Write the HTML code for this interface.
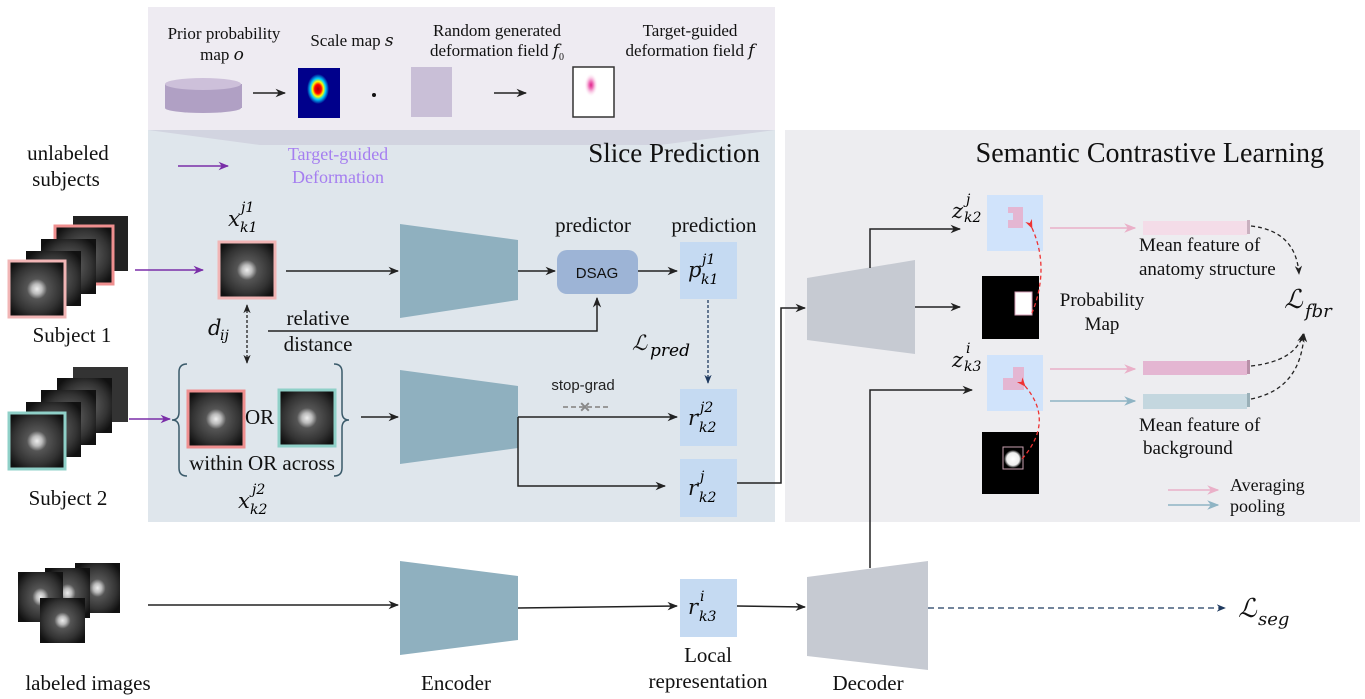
<!DOCTYPE html>
<html><head><meta charset="utf-8"><style>
html,body{margin:0;padding:0;background:#fff;}
svg{display:block;font-family:"Liberation Serif","DejaVu Serif",serif;}
.t{font-size:21px;fill:#111;}
.s{font-size:17px;fill:#111;}
.m{font-style:italic;font-family:"DejaVu Serif",serif;}
</style></head><body>
<svg width="1365" height="699" viewBox="0 0 1365 699" xmlns="http://www.w3.org/2000/svg">
<defs>
<radialGradient id="mri" cx="0.5" cy="0.5" r="0.6">
<stop offset="0" stop-color="#eee"/><stop offset="0.15" stop-color="#bbb"/><stop offset="0.3" stop-color="#555"/><stop offset="0.7" stop-color="#333"/><stop offset="1" stop-color="#111"/></radialGradient>
<radialGradient id="heat" cx="0.5" cy="0.5" r="0.5">
<stop offset="0" stop-color="#a00"/><stop offset="0.3" stop-color="#f00"/><stop offset="0.5" stop-color="#ff0"/><stop offset="0.7" stop-color="#0cf"/><stop offset="1" stop-color="#00008b"/></radialGradient>
<radialGradient id="tg" cx="0.5" cy="0.5" r="0.5">
<stop offset="0" stop-color="#e0208a"/><stop offset="0.35" stop-color="#f080c0"/><stop offset="1" stop-color="#fff" stop-opacity="0"/></radialGradient>
<radialGradient id="blob" cx="0.5" cy="0.5" r="0.5">
<stop offset="0" stop-color="#fff"/><stop offset="0.7" stop-color="#eee"/><stop offset="1" stop-color="#000"/></radialGradient>
<marker id="a" viewBox="0 0 10 10" refX="9" refY="5" markerWidth="7" markerHeight="7" orient="auto-start-reverse"><path d="M0,1 L10,5 L0,9 L3,5z" fill="#222"/></marker>
<marker id="ap" viewBox="0 0 10 10" refX="9" refY="5" markerWidth="7" markerHeight="7" orient="auto"><path d="M0,1 L10,5 L0,9 L3,5z" fill="#7a2ea8"/></marker>
<marker id="an" viewBox="0 0 10 10" refX="9" refY="5" markerWidth="7" markerHeight="7" orient="auto"><path d="M0,1 L10,5 L0,9 L3,5z" fill="#1f3a5f"/></marker>
<marker id="ar" viewBox="0 0 10 10" refX="9" refY="5" markerWidth="7" markerHeight="7" orient="auto"><path d="M0,1 L10,5 L0,9 L3,5z" fill="#e33"/></marker>
<marker id="apk" viewBox="0 0 10 10" refX="9" refY="5" markerWidth="8" markerHeight="8" orient="auto"><path d="M0,1 L10,5 L0,9 L3,5z" fill="#eab0c8"/></marker>
<marker id="abl" viewBox="0 0 10 10" refX="9" refY="5" markerWidth="8" markerHeight="8" orient="auto"><path d="M0,1 L10,5 L0,9 L3,5z" fill="#8fb4c4"/></marker>
</defs>

<!-- panels -->
<rect x="148" y="7" width="627" height="123" fill="#eeebf2"/>
<rect x="148" y="130" width="627" height="392" fill="#dfe6ec"/>
<polygon points="148,130 775,130 660,145 260,145" fill="#d2d4e0"/>
<rect x="785" y="130" width="575" height="392" fill="#ededf0"/>

<!-- top panel -->
<text class="s" x="224" y="39" text-anchor="middle">Prior probability</text>
<text class="s" x="222" y="60" text-anchor="middle">map <tspan class="m">o</tspan></text>
<text class="s" x="352" y="46" text-anchor="middle">Scale map <tspan class="m">s</tspan></text>
<text class="s" x="497" y="36" text-anchor="middle">Random generated</text>
<text class="s" x="497" y="56" text-anchor="middle">deformation field <tspan class="m">f</tspan><tspan font-size="10" dy="4">0</tspan></text>
<text class="s" x="690" y="36" text-anchor="middle">Target-guided</text>
<text class="s" x="690" y="56" text-anchor="middle">deformation field <tspan class="m">f</tspan></text>
<rect x="165" y="84" width="77" height="24" fill="#b0a0c4"/>
<ellipse cx="203" cy="84" rx="38" ry="6" fill="#cdc0da"/>
<ellipse cx="203" cy="108" rx="38" ry="5" fill="#b0a0c4"/>
<line x1="253" y1="93" x2="285" y2="93" stroke="#222" stroke-width="1.5" marker-end="url(#a)"/>
<rect x="298" y="68" width="42" height="50" fill="#00008b"/>
<ellipse cx="318" cy="89" rx="11" ry="15" fill="url(#heat)"/>
<circle cx="374" cy="95" r="2" fill="#111"/>
<rect x="411" y="67" width="41" height="50" fill="#c9bfd7"/>
<line x1="494" y1="93" x2="526" y2="93" stroke="#222" stroke-width="1.5" marker-end="url(#a)"/>
<rect x="573" y="67" width="41" height="50" fill="#fff" stroke="#333" stroke-width="1.5"/>
<ellipse cx="591" cy="85" rx="7" ry="12" fill="url(#tg)"/>

<!-- left -->
<text class="t" x="68" y="160" text-anchor="middle">unlabeled</text>
<text class="t" x="66" y="186" text-anchor="middle">subjects</text>
<line x1="178" y1="166" x2="228" y2="166" stroke="#7a2ea8" stroke-width="1.5" marker-end="url(#ap)"/>
<text x="338" y="160" font-size="18" fill="#a57ef0" text-anchor="middle">Target-guided</text>
<text x="338" y="183" font-size="18" fill="#a57ef0" text-anchor="middle">Deformation</text>
<text x="760" y="162" font-size="27" fill="#111" text-anchor="end">Slice Prediction</text>
<text x="1324" y="162" font-size="28" fill="#111" text-anchor="end">Semantic Contrastive Learning</text>

<!-- subject 1 stack -->
<rect x="73" y="216" width="55" height="55" fill="#222"/>
<rect x="55" y="226" width="58" height="58" fill="url(#mri)" stroke="#ef8f8f" stroke-width="3"/>
<rect x="41" y="239" width="55" height="55" fill="url(#mri)"/>
<rect x="26" y="251" width="55" height="55" fill="url(#mri)"/>
<rect x="9" y="261" width="56" height="56" fill="url(#mri)" stroke="#f1b5b5" stroke-width="3"/>
<text class="t" x="72" y="342" text-anchor="middle">Subject 1</text>
<line x1="135" y1="270" x2="203" y2="270" stroke="#7a2ea8" stroke-width="1.5" marker-end="url(#ap)"/>
<!-- subject 2 stack -->
<rect x="73" y="367" width="55" height="55" fill="#333"/>
<rect x="57" y="378" width="55" height="55" fill="url(#mri)"/>
<rect x="41" y="390" width="55" height="55" fill="url(#mri)"/>
<rect x="26" y="402" width="55" height="55" fill="url(#mri)"/>
<rect x="9" y="413" width="56" height="56" fill="url(#mri)" stroke="#8fd0c8" stroke-width="3"/>
<text class="t" x="68" y="505" text-anchor="middle">Subject 2</text>
<line x1="129" y1="419" x2="170" y2="419" stroke="#7a2ea8" stroke-width="1.5" marker-end="url(#ap)"/>

<!-- x_k1 -->
<text class="t m" x="228" y="226">x</text><text x="241" y="212" font-size="14" class="m">j1</text><text x="240" y="232" font-size="14" class="m">k1</text>
<rect x="219" y="242" width="56" height="56" fill="url(#mri)" stroke="#f1b5b5" stroke-width="3"/>
<line x1="286" y1="271" x2="398" y2="271" stroke="#222" stroke-width="1.5" marker-end="url(#a)"/>
<line x1="247" y1="305" x2="247" y2="363" stroke="#222" stroke-width="1.3" stroke-dasharray="3,2" marker-start="url(#a)" marker-end="url(#a)"/>
<text class="t m" x="208" y="335">d</text><text x="220" y="340" font-size="14" class="m">ij</text>
<text class="t" x="318" y="325" text-anchor="middle" fill="#333">relative</text>
<text class="t" x="318" y="351" text-anchor="middle" fill="#333">distance</text>
<polyline points="268,331 597,331 597,298" fill="none" stroke="#222" stroke-width="1.5" marker-end="url(#a)"/>

<!-- brace group -->
<path d="M187,364 q-8,0 -8,8 v40 q0,8 -7,8 q7,0 7,8 v40 q0,8 8,8" fill="none" stroke="#3a5a6a" stroke-width="1.5"/>
<path d="M334,364 q8,0 8,8 v40 q0,8 7,8 q-7,0 -7,8 v40 q0,8 -8,8" fill="none" stroke="#3a5a6a" stroke-width="1.5"/>
<rect x="188" y="391" width="56" height="56" fill="url(#mri)" stroke="#ef8f8f" stroke-width="3"/>
<text class="t" x="245" y="424">OR</text>
<rect x="279" y="390" width="56" height="56" fill="url(#mri)" stroke="#8fd0c8" stroke-width="3"/>
<text class="t" x="262" y="470" text-anchor="middle">within OR across</text>
<text class="t m" x="238" y="508">x</text><text x="252" y="494" font-size="14" class="m">j2</text><text x="250" y="514" font-size="14" class="m">k2</text>
<line x1="361" y1="417" x2="398" y2="417" stroke="#222" stroke-width="1.5" marker-end="url(#a)"/>

<!-- encoders -->
<polygon points="400,224 518,240 518,300 400,318" fill="#8fb0bf"/>
<polygon points="400,370 518,386 518,448 400,464" fill="#8fb0bf"/>
<polygon points="400,561 518,576 518,640 400,655" fill="#8fb0bf"/>

<line x1="518" y1="271" x2="555" y2="271" stroke="#222" stroke-width="1.5" marker-end="url(#a)"/>
<text class="t" x="593" y="232" text-anchor="middle">predictor</text>
<rect x="557" y="250" width="81" height="44" rx="10" fill="#9db4d6"/>
<text x="597" y="278" font-size="15" text-anchor="middle" font-family="Liberation Sans,sans-serif" fill="#111">DSAG</text>
<line x1="638" y1="271" x2="677" y2="271" stroke="#222" stroke-width="1.5" marker-end="url(#a)"/>
<text class="t" x="714" y="232" text-anchor="middle">prediction</text>

<rect x="680" y="242" width="57" height="57" fill="#c5daf2"/>
<text class="t m" x="688" y="277">p</text><text x="702" y="264" font-size="14" class="m">j1</text><text x="701" y="284" font-size="14" class="m">k1</text>
<line x1="708" y1="300" x2="708" y2="383" stroke="#1f3a5f" stroke-width="1.3" stroke-dasharray="3,2" marker-end="url(#an)"/>
<text class="t m" x="632" y="350">ℒ</text><text x="650" y="356" font-size="17" class="m">pred</text>

<text x="583" y="390" font-size="15" text-anchor="middle" fill="#222" font-family="Liberation Sans,sans-serif">stop-grad</text>
<line x1="563" y1="407" x2="610" y2="407" stroke="#999" stroke-width="2" stroke-dasharray="5,3"/>
<text x="585" y="412" font-size="14" fill="#888" text-anchor="middle" font-weight="bold">✕</text>
<rect x="680" y="389" width="57" height="57" fill="#c5daf2"/>
<text class="t m" x="688" y="425">r</text><text x="700" y="412" font-size="14" class="m">j2</text><text x="699" y="432" font-size="14" class="m">k2</text>
<rect x="680" y="459" width="57" height="58" fill="#c5daf2"/>
<text class="t m" x="688" y="495">r</text><text x="700" y="481" font-size="14" class="m">j</text><text x="699" y="502" font-size="14" class="m">k2</text>
<polyline points="518,417 518,417 677,417" fill="none" stroke="#222" stroke-width="1.5" marker-end="url(#a)"/>
<polyline points="518,417 518,486 665,486" fill="none" stroke="#222" stroke-width="1.5" marker-end="url(#a)"/>
<polyline points="737,483 781,483 781,308 805,308" fill="none" stroke="#222" stroke-width="1.5" marker-end="url(#a)"/>

<!-- decoder 1 -->
<polygon points="807,278 915,260 915,354 807,340" fill="#c6cad2"/>
<polyline points="870,268 870,229 960,229" fill="none" stroke="#222" stroke-width="1.5" marker-end="url(#a)"/>
<line x1="915" y1="307" x2="960" y2="307" stroke="#222" stroke-width="1.5" marker-end="url(#a)"/>
<text class="t m" x="952" y="218">z</text><text x="966" y="204" font-size="14" class="m">j</text><text x="964" y="222" font-size="14" class="m">k2</text>
<rect x="987" y="195" width="56" height="56" fill="#d0e3fb"/>
<polygon points="1013,207 1023,207 1023,228 1008,228 1008,220 1013,220" fill="#e4b6d2"/>
<rect x="1008" y="207" width="15" height="6" fill="#e4b6d2"/>
<rect x="982" y="276" width="57" height="63" fill="#000"/>
<rect x="1015" y="292" width="17" height="23" fill="#fff" stroke="#d8a0b8"/>
<path d="M1032,228 q18,40 0,85" fill="none" stroke="#e33" stroke-width="1.3" stroke-dasharray="4,3" marker-start="url(#ar)"/>
<text x="1102" y="306" text-anchor="middle" font-size="19" fill="#111">Probability</text>
<text x="1102" y="330" text-anchor="middle" font-size="19" fill="#111">Map</text>

<text class="t m" x="952" y="367">z</text><text x="966" y="353" font-size="14" class="m">i</text><text x="964" y="371" font-size="14" class="m">k3</text>
<rect x="987" y="355" width="56" height="56" fill="#d0e3fb"/>
<polygon points="1013,367 1024,367 1024,390 1003,390 1003,378 1013,378" fill="#e4b6d2"/>
<rect x="982" y="432" width="57" height="62" fill="#000"/>
<rect x="1003" y="447" width="20" height="22" fill="none" stroke="#c8a0b0"/>
<circle cx="1013" cy="459" r="9" fill="url(#blob)"/>
<path d="M1025,386 q30,35 -3,73" fill="none" stroke="#e33" stroke-width="1.3" stroke-dasharray="4,3" marker-start="url(#ar)"/>

<line x1="1050" y1="228" x2="1135" y2="228" stroke="#eab0c8" stroke-width="1.5" marker-end="url(#apk)"/>
<line x1="1050" y1="369" x2="1135" y2="369" stroke="#eab0c8" stroke-width="1.5" marker-end="url(#apk)"/>
<line x1="1050" y1="401" x2="1135" y2="401" stroke="#8fb4c4" stroke-width="1.5" marker-end="url(#abl)"/>
<rect x="1143" y="221" width="104" height="14" fill="#f4dce8"/><rect x="1247" y="220" width="3" height="14" fill="#c9b0bf"/>
<rect x="1143" y="361" width="104" height="14" fill="#e4b6d2"/><rect x="1247" y="360" width="3" height="14" fill="#b890a8"/>
<rect x="1143" y="394" width="104" height="15" fill="#c4d7df"/><rect x="1247" y="393" width="3" height="14" fill="#9ab0b8"/>
<text x="1139" y="251" font-size="19" fill="#111">Mean feature of</text>
<text x="1139" y="275" font-size="19" fill="#111">anatomy structure</text>
<text x="1139" y="431" font-size="19" fill="#111">Mean feature of</text>
<text x="1143" y="454" font-size="19" fill="#111">background</text>
<path d="M1251,226 q45,5 48,48" fill="none" stroke="#222" stroke-width="1.3" stroke-dasharray="4,3" marker-end="url(#a)"/>
<path d="M1251,366 q45,-5 52,-32" fill="none" stroke="#222" stroke-width="1.3" stroke-dasharray="4,3" marker-end="url(#a)"/>
<path d="M1251,399 q50,-10 53,-65" fill="none" stroke="#222" stroke-width="1.3" stroke-dasharray="4,3" marker-end="url(#a)"/>
<text x="1284" y="308" font-size="26" class="m" fill="#111">ℒ</text><text x="1305" y="317" font-size="18" class="m" fill="#111">fbr</text>
<line x1="1168" y1="490" x2="1218" y2="490" stroke="#eab0c8" stroke-width="1.5" marker-end="url(#apk)"/>
<line x1="1168" y1="505" x2="1218" y2="505" stroke="#8fb4c4" stroke-width="1.5" marker-end="url(#abl)"/>
<text x="1230" y="491" font-size="18" fill="#111">Averaging</text>
<text x="1230" y="512" font-size="18" fill="#111">pooling</text>

<!-- bottom -->
<rect x="75" y="563" width="45" height="50" fill="url(#mri)"/>
<rect x="45" y="568" width="45" height="50" fill="url(#mri)"/>
<rect x="18" y="572" width="45" height="50" fill="url(#mri)"/>
<rect x="40" y="598" width="45" height="45" fill="url(#mri)"/>
<text class="t" x="88" y="690" text-anchor="middle">labeled images</text>
<line x1="148" y1="605" x2="398" y2="605" stroke="#222" stroke-width="1.5" marker-end="url(#a)"/>
<line x1="518" y1="608" x2="677" y2="606" stroke="#222" stroke-width="1.5" marker-end="url(#a)"/>
<rect x="680" y="579" width="57" height="58" fill="#c5daf2"/>
<text class="t m" x="688" y="614">r</text><text x="700" y="601" font-size="14" class="m">i</text><text x="699" y="621" font-size="14" class="m">k3</text>
<line x1="737" y1="606" x2="805" y2="607" stroke="#222" stroke-width="1.5" marker-end="url(#a)"/>
<polygon points="807,577 928,561 928,670 807,656" fill="#c6cad2"/>
<polyline points="870,568 870,390 972,390" fill="none" stroke="#222" stroke-width="1.5" marker-end="url(#a)"/>
<line x1="928" y1="608" x2="1225" y2="608" stroke="#1f3a5f" stroke-width="1.3" stroke-dasharray="6,4" marker-end="url(#an)"/>
<text x="1238" y="617" font-size="26" class="m" fill="#111">ℒ</text><text x="1258" y="625" font-size="18" class="m" fill="#111">seg</text>
<text class="t" x="456" y="690" text-anchor="middle">Encoder</text>
<text class="t" x="708" y="662" text-anchor="middle">Local</text>
<text class="t" x="708" y="688" text-anchor="middle">representation</text>
<text class="t" x="868" y="690" text-anchor="middle">Decoder</text>
</svg>
</body></html>
